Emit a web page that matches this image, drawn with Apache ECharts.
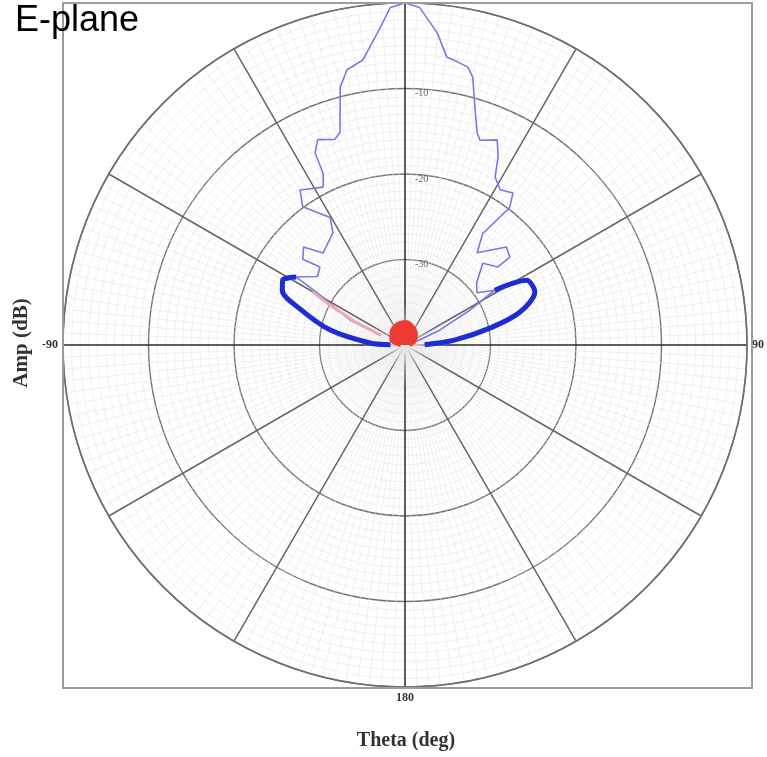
<!DOCTYPE html>
<html>
<head>
<meta charset="utf-8">
<style>
  html, body { margin: 0; padding: 0; background: #ffffff; }
  #chart { width: 767px; height: 757px; }
</style>
<script src="https://cdn.jsdelivr.net/npm/echarts@6/dist/echarts.min.js"></script>
</head>
<body>
<div id="chart"></div>
<script>
// ---- Data (amplitude in dB, angle theta in degrees) ----
var titleText = 'E-plane';
var xAxisName = 'Theta (deg)';
var yAxisName = 'Amp (dB)';
var ampTicks = [-40, -30, -20, -10, 0];
var thetaTickLabels = { '0': '0', '90': '90', '180': '180', '270': '-90' };

// thin light-blue trace (theta, amp)
var thinTheta = [-68, -65.6, -59.5, -58, -52, -47.5, -50, -46, -41.7, -32.7, -30.4, -36.5, -34.1, -27.4, -25.5, -25.1, -23, -18.9, -17, -14.1, -11.9, -8.4, -5.1, -2.5, 0,
                 2.5, 5.9, 8.3, 10.4, 12.8, 14.2, 16.6, 18.8, 20.1, 24.2, 26.3, 28.2, 31.5, 35.4, 37.3, 34.9, 38, 46, 50, 50, 43.6, 49, 54, 58.6, 61.7, 66.8, 72];
var thinAmp   = [-36.8, -33.0, -28.4, -25.0, -27.0, -26.5, -24.4, -23.5, -25.6, -24.4, -22.7, -19.9, -18.1, -19.2, -17.8, -15.2, -13.9, -14.6, -14.0, -8.9, -7.1, -6.3, -3.4, -0.5, 0.0,
                 -0.5, -3.3, -6.0, -6.3, -6.7, -7.7, -11.3, -13.8, -14.5, -13.7, -15.4, -17.7, -18.7, -18.2, -19.8, -24.1, -26.3, -23.5, -24.0, -25.8, -26.8, -28.9, -29.6, -27.7, -31.3, -35.6, -38.5];

// thick dark-blue lower lobes
var leftLobeTheta  = [-58, -62, -66, -71, -78.7, -86.7, -89];
var leftLobeAmp    = [-25.0, -23.8, -24.3, -27.0, -31.1, -35.9, -38.3];
var rightLobeTheta = [58.6, 62, 67.8, 74, 78.7, 84.3, 89];
var rightLobeAmp   = [-27.7, -23.9, -23.6, -26.0, -29.8, -34.2, -37.7];

// red trace near the centre
var redTheta = [-90, -70, -45, -20, 0, 20, 45, 70, 90];
var redAmp   = [-39.5, -38.3, -37.8, -37.4, -37.3, -37.6, -38.2, -38.8, -39.5];
var pinkTheta = [-68, -65, -62, -60];
var pinkAmp   = [-37.0, -33.5, -30.0, -27.5];

// theta in [-180,180) -> position on a 0..360 clockwise angle axis
function pairs(amp, theta) {
  return amp.map(function (a, i) { var t = theta[i]; return [a, t < 0 ? t + 360 : t]; });
}

var chart = echarts.init(document.getElementById('chart'), null, { renderer: 'canvas' });

var option = {
  animation: false,
  backgroundColor: '#ffffff',
  polar: { center: [405, 345], radius: 342 },
  angleAxis: {
    type: 'value',
    min: 0,
    max: 360,
    interval: 30,
    startAngle: 90,
    clockwise: true,
    axisLine: { show: true, lineStyle: { color: '#6f6f6f', width: 1.6 } },
    axisTick: { show: false },
    axisLabel: {
      show: true,
      margin: 5,
      color: '#333',
      fontFamily: 'Liberation Serif',
      fontWeight: 'bold',
      fontSize: 12,
      formatter: function (v) {
        var k = String(Math.round(v));
        return thetaTickLabels.hasOwnProperty(k) ? thetaTickLabels[k] : '';
      }
    },
    splitLine: { show: true, lineStyle: { color: ['#2a2a2a', '#666666', '#666666'], width: 1.5 } },
    minorTick: { show: false, splitNumber: 15 },
    minorSplitLine: { show: true, lineStyle: { color: '#e6e6e6', width: 0.6 } }
  },
  radiusAxis: {
    type: 'value',
    min: ampTicks[0],
    max: ampTicks[ampTicks.length - 1],
    interval: 10,
    axisLine: { show: false },
    axisTick: { show: false },
    axisLabel: {
      show: true,
      margin: -10,
      align: 'left',
      verticalAlign: 'top',
      color: '#666',
      fontFamily: 'Liberation Serif',
      fontSize: 10,
      formatter: function (v) {
        return (v === ampTicks[0] || v === ampTicks[ampTicks.length - 1]) ? '' : String(v);
      }
    },
    splitLine: { show: true, lineStyle: { color: '#757575', width: 1.4 } },
    minorTick: { show: false, splitNumber: 10 },
    minorSplitLine: { show: true, lineStyle: { color: '#e6e6e6', width: 0.6 } }
  },
  graphic: [
    {
      type: 'rect', z: 100, silent: true,
      shape: { x: 63, y: 3, width: 689, height: 685 },
      style: { fill: 'none', stroke: '#9c9c9c', lineWidth: 2 }
    },
    {
      type: 'text', z: 110, x: 15, y: 21,
      style: { text: titleText, font: '36px "Liberation Sans", Arial, sans-serif', fill: '#000', textAlign: 'left', textVerticalAlign: 'middle', verticalAlign: 'middle' }
    },
    {
      type: 'text', z: 110, x: 22, y: 343, rotation: Math.PI / 2,
      style: { text: yAxisName, font: 'bold 21px "Liberation Serif", serif', fill: '#333', textAlign: 'center', textVerticalAlign: 'middle', align: 'center', verticalAlign: 'middle' }
    },
    {
      type: 'text', z: 110, x: 406, y: 741,
      style: { text: xAxisName, font: 'bold 20px "Liberation Serif", serif', fill: '#333', textAlign: 'center', textVerticalAlign: 'middle', align: 'center', verticalAlign: 'middle' }
    }
  ],
  series: [
    {
      type: 'line', coordinateSystem: 'polar', name: 'thin',
      data: pairs(thinAmp, thinTheta), showSymbol: false, symbol: 'none',
      lineStyle: { color: '#7a78e6', width: 1.6 }, z: 3
    },
    {
      type: 'line', coordinateSystem: 'polar', name: 'leftLobe',
      data: pairs(leftLobeAmp, leftLobeTheta), showSymbol: false, symbol: 'none', smooth: 0.3,
      lineStyle: { color: '#1f2bd3', width: 5 }, z: 4
    },
    {
      type: 'line', coordinateSystem: 'polar', name: 'rightLobe',
      data: pairs(rightLobeAmp, rightLobeTheta), showSymbol: false, symbol: 'none', smooth: 0.3,
      lineStyle: { color: '#1f2bd3', width: 5 }, z: 4
    },
    {
      type: 'line', coordinateSystem: 'polar', name: 'pink',
      data: pairs(pinkAmp, pinkTheta), showSymbol: false, symbol: 'none',
      lineStyle: { color: '#f2a6b0', width: 3 }, z: 5
    },
    {
      type: 'line', coordinateSystem: 'polar', name: 'red',
      data: pairs(redAmp, redTheta), showSymbol: false, symbol: 'none', smooth: 0.3,
      lineStyle: { color: '#ec3a35', width: 4 },
      areaStyle: { color: '#ec3a35', opacity: 1, origin: 'start' }, z: 6
    }
  ]
};
chart.setOption(option);
</script>
</body>
</html>
